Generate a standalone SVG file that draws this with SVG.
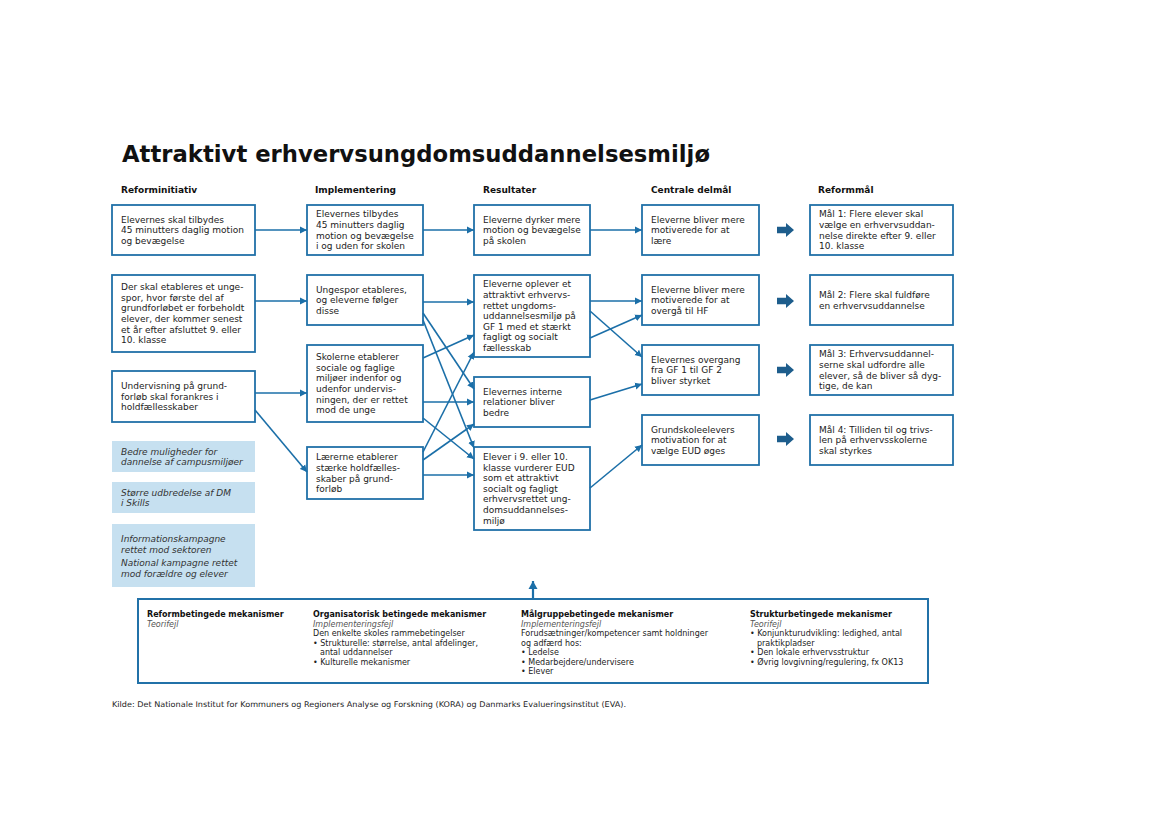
<svg xmlns="http://www.w3.org/2000/svg" width="1169" height="827" viewBox="0 0 1169 827">
<style>
.bg{fill:#ffffff}
.box{fill:#ffffff;stroke:#2171a8;stroke-width:1.8}
.lbox{fill:#c6e0f0;stroke:none}
.t{font-family:"DejaVu Sans","Liberation Sans",sans-serif;font-size:9px;fill:#222}
.ti{font-family:"DejaVu Sans","Liberation Sans",sans-serif;font-size:9px;fill:#333;font-style:italic}
.h{font-family:"DejaVu Sans","Liberation Sans",sans-serif;font-size:9px;font-weight:bold;fill:#111}
.title{font-family:"DejaVu Sans","Liberation Sans",sans-serif;font-size:23px;font-weight:bold;fill:#111}
.s{font-family:"DejaVu Sans","Liberation Sans",sans-serif;font-size:8px;fill:#222}
.sb{font-family:"DejaVu Sans","Liberation Sans",sans-serif;font-size:8px;font-weight:bold;fill:#111}
.si{font-family:"DejaVu Sans","Liberation Sans",sans-serif;font-size:8px;font-style:italic;fill:#555}
.c{fill:none;stroke:#1b6fa8;stroke-width:1.6;marker-end:url(#ah)}
.up{fill:none;stroke:#1b6fa8;stroke-width:2.2;marker-end:url(#ahb)}
.fat{fill:#1d5d8c}
</style>
<defs>
<marker id="ah" markerWidth="8" markerHeight="8" refX="7" refY="4" orient="auto" markerUnits="userSpaceOnUse">
<path d="M0,0.5 L7,4 L0,7.5 z" fill="#1b6fa8"/>
</marker>
<marker id="ahb" markerWidth="10" markerHeight="10" refX="8" refY="5" orient="auto" markerUnits="userSpaceOnUse">
<path d="M0,0.5 L8,5 L0,9.5 z" fill="#1b6fa8"/>
</marker>
<path id="fatarrow" d="M0,-3.2 L9,-3.2 L9,-7 L17,0 L9,7 L9,3.2 L0,3.2 z"/>
</defs>
<rect class="bg" x="0" y="0" width="1169" height="827"/>

<text class="title" x="122" y="162" textLength="588" lengthAdjust="spacingAndGlyphs">Attraktivt erhvervsungdomsuddannelsesmiljø</text>

<g id="headers">
<text class="h" x="121" y="193">Reforminitiativ</text>
<text class="h" x="315" y="193">Implementering</text>
<text class="h" x="483" y="193">Resultater</text>
<text class="h" x="651" y="193">Centrale delmål</text>
<text class="h" x="818" y="193">Reformmål</text>
</g>

<g id="A1"><rect class="box" x="112" y="205" width="143" height="50"/>
<text class="t" x="121" y="222.6">Elevernes skal tilbydes</text>
<text class="t" x="121" y="233.2">45 minutters daglig motion</text>
<text class="t" x="121" y="243.8">og bevægelse</text></g>

<g id="A2"><rect class="box" x="112" y="275" width="143" height="77"/>
<text class="t" x="121" y="290.2">Der skal etableres et unge-</text>
<text class="t" x="121" y="300.8">spor, hvor første del af</text>
<text class="t" x="121" y="311.4">grundforløbet er forbeholdt</text>
<text class="t" x="121" y="322">elever, der kommer senest</text>
<text class="t" x="121" y="332.6">et år efter afsluttet 9. eller</text>
<text class="t" x="121" y="343.2">10. klasse</text></g>

<g id="A3"><rect class="box" x="112" y="371" width="143" height="51"/>
<text class="t" x="121" y="389.1">Undervisning på grund-</text>
<text class="t" x="121" y="399.7">forløb skal forankres i</text>
<text class="t" x="121" y="410.3">holdfællesskaber</text></g>

<g id="B1"><rect class="lbox" x="112" y="441" width="143" height="31"/>
<text class="ti" x="121" y="454.6">Bedre muligheder for</text>
<text class="ti" x="121" y="465.2">dannelse af campusmiljøer</text></g>

<g id="B2"><rect class="lbox" x="112" y="482" width="143" height="31"/>
<text class="ti" x="121" y="495.6">Større udbredelse af DM</text>
<text class="ti" x="121" y="506.2">i Skills</text></g>

<g id="B3"><rect class="lbox" x="112" y="524" width="143" height="63"/>
<text class="ti" x="121" y="542">Informationskampagne</text>
<text class="ti" x="121" y="552.6">rettet mod sektoren</text>
<text class="ti" x="121" y="566">National kampagne rettet</text>
<text class="ti" x="121" y="576.6">mod forældre og elever</text></g>

<g id="C1"><rect class="box" x="307" y="205" width="116" height="50"/>
<text class="t" x="316" y="217.3">Elevernes tilbydes</text>
<text class="t" x="316" y="227.9">45 minutters daglig</text>
<text class="t" x="316" y="238.5">motion og bevægelse</text>
<text class="t" x="316" y="249.1">i og uden for skolen</text></g>

<g id="C2"><rect class="box" x="307" y="275" width="116" height="50"/>
<text class="t" x="316" y="292.6">Ungespor etableres,</text>
<text class="t" x="316" y="303.2">og eleverne følger</text>
<text class="t" x="316" y="313.8">disse</text></g>

<g id="C3"><rect class="box" x="307" y="345" width="116" height="77"/>
<text class="t" x="316" y="360.2">Skolerne etablerer</text>
<text class="t" x="316" y="370.8">sociale og faglige</text>
<text class="t" x="316" y="381.4">miljøer indenfor og</text>
<text class="t" x="316" y="392">udenfor undervis-</text>
<text class="t" x="316" y="402.6">ningen, der er rettet</text>
<text class="t" x="316" y="413.2">mod de unge</text></g>

<g id="C4"><rect class="box" x="307" y="447" width="116" height="52"/>
<text class="t" x="316" y="460.3">Lærerne etablerer</text>
<text class="t" x="316" y="470.9">stærke holdfælles-</text>
<text class="t" x="316" y="481.5">skaber på grund-</text>
<text class="t" x="316" y="492.1">forløb</text></g>

<g id="D1"><rect class="box" x="474" y="205" width="116" height="50"/>
<text class="t" x="483" y="222.6">Eleverne dyrker mere</text>
<text class="t" x="483" y="233.2">motion og bevægelse</text>
<text class="t" x="483" y="243.8">på skolen</text></g>

<g id="D2"><rect class="box" x="474" y="275" width="116" height="82"/>
<text class="t" x="483" y="287.4">Eleverne oplever et</text>
<text class="t" x="483" y="298">attraktivt erhvervs-</text>
<text class="t" x="483" y="308.6">rettet ungdoms-</text>
<text class="t" x="483" y="319.2">uddannelsesmiljø på</text>
<text class="t" x="483" y="329.8">GF 1 med et stærkt</text>
<text class="t" x="483" y="340.4">fagligt og socialt</text>
<text class="t" x="483" y="351">fællesskab</text></g>

<g id="D3"><rect class="box" x="474" y="377" width="116" height="50"/>
<text class="t" x="483" y="394.6">Elevernes interne</text>
<text class="t" x="483" y="405.2">relationer bliver</text>
<text class="t" x="483" y="415.8">bedre</text></g>

<g id="D4"><rect class="box" x="474" y="447" width="116" height="83"/>
<text class="t" x="483" y="460">Elever i 9. eller 10.</text>
<text class="t" x="483" y="470.6">klasse vurderer EUD</text>
<text class="t" x="483" y="481.2">som et attraktivt</text>
<text class="t" x="483" y="491.8">socialt og fagligt</text>
<text class="t" x="483" y="502.4">erhvervsrettet ung-</text>
<text class="t" x="483" y="513">domsuddannelses-</text>
<text class="t" x="483" y="523.6">miljø</text></g>

<g id="E1"><rect class="box" x="642" y="205" width="117" height="50"/>
<text class="t" x="651" y="222.6">Eleverne bliver mere</text>
<text class="t" x="651" y="233.2">motiverede for at</text>
<text class="t" x="651" y="243.8">lære</text></g>

<g id="E2"><rect class="box" x="642" y="275" width="117" height="50"/>
<text class="t" x="651" y="292.6">Eleverne bliver mere</text>
<text class="t" x="651" y="303.2">motiverede for at</text>
<text class="t" x="651" y="313.8">overgå til HF</text></g>

<g id="E3"><rect class="box" x="642" y="345" width="117" height="50"/>
<text class="t" x="651" y="362.6">Elevernes overgang</text>
<text class="t" x="651" y="373.2">fra GF 1 til GF 2</text>
<text class="t" x="651" y="383.8">bliver styrket</text></g>

<g id="E4"><rect class="box" x="642" y="415" width="117" height="50"/>
<text class="t" x="651" y="432.6">Grundskoleelevers</text>
<text class="t" x="651" y="443.2">motivation for at</text>
<text class="t" x="651" y="453.8">vælge EUD øges</text></g>

<g id="F1"><rect class="box" x="810" y="205" width="143" height="50"/>
<text class="t" x="819" y="217.3">Mål 1: Flere elever skal</text>
<text class="t" x="819" y="227.9">vælge en erhvervsuddan-</text>
<text class="t" x="819" y="238.5">nelse direkte efter 9. eller</text>
<text class="t" x="819" y="249.1">10. klasse</text></g>

<g id="F2"><rect class="box" x="810" y="275" width="143" height="50"/>
<text class="t" x="819" y="297.9">Mål 2: Flere skal fuldføre</text>
<text class="t" x="819" y="308.5">en erhvervsuddannelse</text></g>

<g id="F3"><rect class="box" x="810" y="345" width="143" height="50"/>
<text class="t" x="819" y="357.3">Mål 3: Erhvervsuddannel-</text>
<text class="t" x="819" y="367.9">serne skal udfordre alle</text>
<text class="t" x="819" y="378.5">elever, så de bliver så dyg-</text>
<text class="t" x="819" y="389.1">tige, de kan</text></g>

<g id="F4"><rect class="box" x="810" y="415" width="143" height="50"/>
<text class="t" x="819" y="432.6">Mål 4: Tilliden til og trivs-</text>
<text class="t" x="819" y="443.2">len på erhvervsskolerne</text>
<text class="t" x="819" y="453.8">skal styrkes</text></g>

<g id="connectors">
<line class="c" x1="255" y1="230" x2="307" y2="230"/>
<line class="c" x1="255" y1="301" x2="307" y2="301"/>
<line class="c" x1="255" y1="393" x2="307" y2="393"/>
<line class="c" x1="255" y1="410" x2="307" y2="472"/>
<line class="c" x1="423" y1="230" x2="474" y2="230"/>
<line class="c" x1="423" y1="302" x2="474" y2="302"/>
<line class="c" x1="423" y1="313" x2="474" y2="389"/>
<line class="c" x1="423" y1="320" x2="474" y2="448"/>
<line class="c" x1="423" y1="358" x2="474" y2="335"/>
<line class="c" x1="423" y1="402" x2="474" y2="402"/>
<line class="c" x1="423" y1="418" x2="474" y2="459"/>
<line class="c" x1="423" y1="452" x2="474" y2="352"/>
<line class="c" x1="423" y1="460" x2="474" y2="424"/>
<line class="c" x1="423" y1="475" x2="474" y2="475"/>
<line class="c" x1="590" y1="230" x2="642" y2="230"/>
<line class="c" x1="590" y1="301" x2="642" y2="301"/>
<line class="c" x1="590" y1="311" x2="642" y2="357"/>
<line class="c" x1="590" y1="338" x2="642" y2="315"/>
<line class="c" x1="590" y1="400" x2="642" y2="384"/>
<line class="c" x1="590" y1="488" x2="642" y2="445"/>
<line class="up" x1="533" y1="599" x2="533" y2="581"/>
<use href="#fatarrow" class="fat" x="777" y="230"/>
<use href="#fatarrow" class="fat" x="777" y="301"/>
<use href="#fatarrow" class="fat" x="777" y="370"/>
<use href="#fatarrow" class="fat" x="777" y="439"/>
</g>

<g id="mechanisms">
<rect x="138" y="599" width="790" height="84" fill="#ffffff" stroke="#2171a8" stroke-width="2"/>
<text class="sb" x="147" y="617">Reformbetingede mekanismer</text>
<text class="si" x="147" y="626.5">Teorifejl</text>

<text class="sb" x="313" y="617">Organisatorisk betingede mekanismer</text>
<text class="si" x="313" y="626.5">Implementeringsfejl</text>
<text class="s" x="313" y="636">Den enkelte skoles rammebetingelser</text>
<text class="s" x="313" y="645.5">• Strukturelle: størrelse, antal afdelinger,</text>
<text class="s" x="320" y="655">antal uddannelser</text>
<text class="s" x="313" y="664.5">• Kulturelle mekanismer</text>

<text class="sb" x="521" y="617">Målgruppebetingede mekanismer</text>
<text class="si" x="521" y="626.5">Implementeringsfejl</text>
<text class="s" x="521" y="636">Forudsætninger/kompetencer samt holdninger</text>
<text class="s" x="521" y="645.5">og adfærd hos:</text>
<text class="s" x="521" y="655">• Ledelse</text>
<text class="s" x="521" y="664.5">• Medarbejdere/undervisere</text>
<text class="s" x="521" y="674">• Elever</text>

<text class="sb" x="750" y="617">Strukturbetingede mekanismer</text>
<text class="si" x="750" y="626.5">Teorifejl</text>
<text class="s" x="750" y="636">• Konjunkturudvikling: ledighed, antal</text>
<text class="s" x="757" y="645.5">praktikpladser</text>
<text class="s" x="750" y="655">• Den lokale erhvervsstruktur</text>
<text class="s" x="750" y="664.5">• Øvrig lovgivning/regulering, fx OK13</text>
</g>

<text class="s" x="112" y="707" style="font-size:7.8px" textLength="514" lengthAdjust="spacingAndGlyphs">Kilde: Det Nationale Institut for Kommuners og Regioners Analyse og Forskning (KORA) og Danmarks Evalueringsinstitut (EVA).</text>
</svg>
